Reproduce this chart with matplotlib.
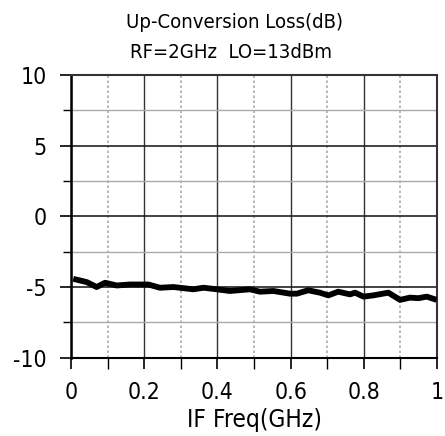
import matplotlib
matplotlib.use("Agg")
import matplotlib.pyplot as plt
from matplotlib.ticker import MultipleLocator
from matplotlib import font_manager as fm

freq = [0.006, 0.043, 0.07, 0.093, 0.125, 0.161, 0.211, 0.243, 0.28, 0.334, 0.362,
        0.398, 0.434, 0.489, 0.516, 0.553, 0.598, 0.617, 0.648, 0.68, 0.703, 0.73,
        0.762, 0.776, 0.799, 0.826, 0.867, 0.899, 0.926, 0.949, 0.972, 0.999]
loss = [-4.43, -4.66, -5.01, -4.71, -4.90, -4.83, -4.83, -5.06, -5.01, -5.17, -5.06,
        -5.17, -5.29, -5.17, -5.34, -5.29, -5.48, -5.48, -5.24, -5.41, -5.60, -5.34,
        -5.53, -5.41, -5.69, -5.60, -5.41, -5.92, -5.76, -5.80, -5.69, -5.92]

title_lines = ["Up-Conversion Loss(dB)", "RF=2GHz  LO=13dBm"]
xlabel = "IF Freq(GHz)"
xtick_vals = [0, 0.2, 0.4, 0.6, 0.8, 1.0]
xtick_labels = ["0", "0.2", "0.4", "0.6", "0.8", "1"]
ytick_vals = [-10, -5, 0, 5, 10]
ytick_labels = ["-10", "-5", "0", "5", "10"]

plt.rcParams['font.family'] = ['DejaVu Sans']
cond_path = fm.findfont(fm.FontProperties(family='DejaVu Sans', stretch='condensed'))
condensed = 'Condensed' in cond_path
if condensed:
    plt.rcParams['font.stretch'] = 'condensed'
    title_fs, tick_fs, label_fs = 14.6, 16.5, 17.6
else:
    title_fs, tick_fs, label_fs = 12.8, 15.5, 15.8

fig = plt.figure(figsize=(4.45, 4.36), dpi=100)
ax = fig.add_axes([0.1596, 0.180, 0.8225, 0.648])

ax.set_xlim(0, 1)
ax.set_ylim(-10, 10)
ax.xaxis.set_minor_locator(MultipleLocator(0.1))
ax.yaxis.set_minor_locator(MultipleLocator(2.5))

ax.xaxis.grid(True, which='major', color='#333333', linewidth=1.0, linestyle='-')
ax.xaxis.grid(True, which='minor', color='#aaaaaa', linewidth=1.2, linestyle=(0, (1.5, 1.5)))
ax.yaxis.grid(True, which='major', color='#222222', linewidth=1.2, linestyle='-')
ax.yaxis.grid(True, which='minor', color='#aaaaaa', linewidth=1.0, linestyle='-')
ax.set_axisbelow(True)

ax.plot(freq, loss, color='black', linewidth=4.2, solid_joinstyle='round',
        solid_capstyle='butt', zorder=3)

ax.spines['left'].set_linewidth(1.8)
ax.spines['left'].set_color('black')
ax.spines['bottom'].set_linewidth(1.5)
ax.spines['bottom'].set_color('black')
for s in ['top', 'right']:
    ax.spines[s].set_linewidth(1.5)
    ax.spines[s].set_color('#333333')

ax.set_xticks(xtick_vals)
ax.set_xticklabels(xtick_labels)
ax.set_yticks(ytick_vals)
ax.set_yticklabels(ytick_labels)

ax.tick_params(axis='both', which='major', length=8, width=1.2, direction='out',
               labelsize=tick_fs, color='black')
ax.tick_params(axis='y', which='minor', length=6, width=1.0, direction='out', color='black')
ax.tick_params(axis='x', which='minor', length=8, width=1.0, direction='out', color='black')
ax.tick_params(axis='y', which='major', pad=9.5)
ax.tick_params(axis='x', which='major', pad=9)

ax.set_xlabel(xlabel, fontsize=label_fs, labelpad=2.5)
fig.text(0.528, 0.948, title_lines[0], ha='center', va='center', fontsize=title_fs)
fig.text(0.520, 0.880, title_lines[1], ha='center', va='center', fontsize=title_fs)

fig.savefig("out.png", dpi=100)
